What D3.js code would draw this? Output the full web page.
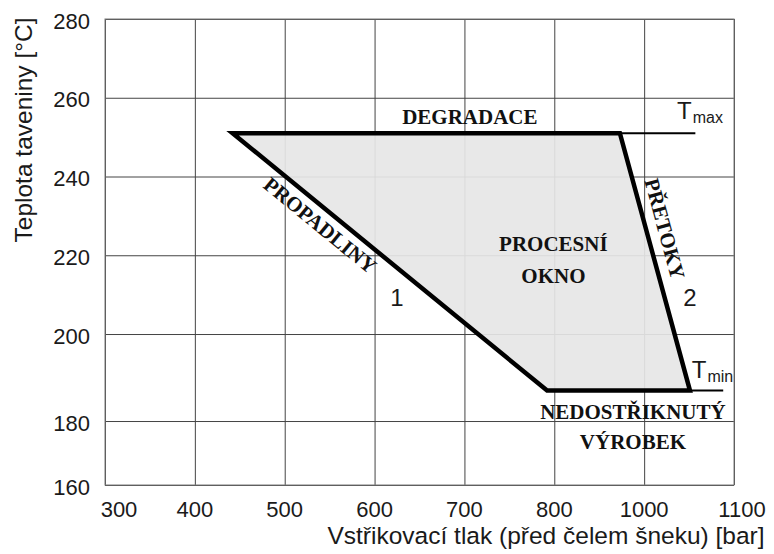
<!DOCTYPE html>
<meta charset="utf-8">
<style>
body { margin: 0; background: #fff; }
.tick text, .axis-title, .num { font-family: "Liberation Sans", Arial, sans-serif; fill: #1a1a1a; }
.zone { font-family: "Liberation Serif", "Times New Roman", serif; font-weight: bold; fill: #111; }
</style>
<body>
<div id="chart"></div>
<script src="https://d3js.org/d3.v7.min.js"></script>
<script>
// axis ticks as printed on the original (900 is missing there)
var xTicks = [300, 400, 500, 600, 700, 800, 1000, 1100];
var yTicks = [160, 180, 200, 220, 240, 260, 280];

// process window corners: injection pressure [bar] / melt temperature [degC]
var pressure = [442, 946, 1051, 792];
var temperature = [251, 251, 187, 187];

// thin limit lines
var tmaxLine = [946, 1057];   // at 251
var tminLine = [1051, 1088];  // at 187

var margin = {top: 19, right: 40, bottom: 69, left: 105},
    width = 774 - margin.left - margin.right,
    height = 554 - margin.top - margin.bottom;

var svg = d3.select("#chart").append("svg")
    .attr("width", 774)
    .attr("height", 554)
  .append("g")
    .attr("transform", "translate(" + margin.left + "," + margin.top + ")");

// the printed axes are evenly spaced per label, not per value
var x = d3.scaleLinear()
    .domain(xTicks)
    .range(xTicks.map(function(d, i) { return i * width / (xTicks.length - 1); }));

// the lowest two rows of the grid are drawn unevenly in the source
var y = d3.scaleLinear()
    .domain([160, 180, 200, 280])
    .range([height, height * 0.8627, height * 0.676, 0]);

// grid
svg.append("g")
    .attr("transform", "translate(0," + height + ")")
    .call(d3.axisBottom(x).tickValues(xTicks).tickSize(-height).tickSizeOuter(0).tickFormat(""))
    .call(function(g) { g.select(".domain").remove(); })
    .selectAll("line").attr("stroke", "#444");

svg.append("g")
    .call(d3.axisLeft(y).tickValues(yTicks).tickSize(-width).tickSizeOuter(0).tickFormat(""))
    .call(function(g) { g.select(".domain").remove(); })
    .selectAll("line").attr("stroke", "#444");

// process window
var corners = pressure.map(function(p, i) { return [x(p), y(temperature[i])]; });

svg.append("polygon")
    .attr("points", corners.map(function(c) { return c.join(","); }).join(" "))
    .attr("fill", "#e6e6e6")
    .attr("fill-opacity", 0.92)
    .attr("stroke", "#000")
    .attr("stroke-width", 4.5)
    .attr("stroke-linejoin", "miter");

// frame
svg.append("rect")
    .attr("width", width)
    .attr("height", height)
    .attr("fill", "none")
    .attr("stroke", "#7a7a7a");

svg.append("line")
    .attr("x1", x(tmaxLine[0])).attr("x2", x(tmaxLine[1]))
    .attr("y1", y(251)).attr("y2", y(251))
    .attr("stroke", "#000").attr("stroke-width", 2);

svg.append("line")
    .attr("x1", x(tminLine[0])).attr("x2", x(tminLine[1]))
    .attr("y1", y(187)).attr("y2", y(187))
    .attr("stroke", "#000").attr("stroke-width", 2);

// tick labels
svg.selectAll(".xlab")
    .data(xTicks)
  .enter().append("text")
    .attr("class", "num")
    .attr("x", function(d, i) { return x(d) + (i == 0 ? 14 : i == xTicks.length - 1 ? 8 : 0); })
    .attr("y", height + 32)
    .attr("text-anchor", "middle")
    .style("font-size", "22px")
    .text(function(d) { return d; });

svg.selectAll(".ylab")
    .data(yTicks)
  .enter().append("text")
    .attr("class", "num")
    .attr("x", -15)
    .attr("y", function(d) { return y(d) + 2; })
    .attr("dy", "0.35em")
    .attr("text-anchor", "end")
    .style("font-size", "22px")
    .text(function(d) { return d; });

// axis titles
svg.append("text")
    .attr("class", "axis-title")
    .attr("x", 546 - margin.left)
    .attr("y", height + 59)
    .attr("text-anchor", "middle")
    .style("font-size", "24.5px")
    .text("Vstřikovací tlak (před čelem šneku) [bar]");

svg.append("text")
    .attr("class", "axis-title")
    .attr("transform", "translate(" + (32 - margin.left) + "," + (130 - margin.top) + ") rotate(-90)")
    .attr("text-anchor", "middle")
    .style("font-size", "24.5px")
    .text("Teplota taveniny [°C]");

// zone labels
function zone(px, t, txt) {
  svg.append("text")
      .attr("class", "zone")
      .attr("x", x(px))
      .attr("y", y(t))
      .attr("text-anchor", "middle")
      .style("font-size", "21px")
      .text(txt);
}
zone(706, 253.3, "DEGRADACE");
zone(799, 221.1, "PROCESNÍ");
zone(799, 213.0, "OKNO");
zone(975, 180.5, "NEDOSTŘIKNUTÝ");
zone(975, 171.3, "VÝROBEK");

// labels that run along an edge of the window
function edgeLabel(a, b, t, off, txt) {
  var dx = corners[b][0] - corners[a][0],
      dy = corners[b][1] - corners[a][1],
      len = Math.sqrt(dx * dx + dy * dy),
      nx = -dy / len, ny = dx / len;
  var cx = corners[a][0] + t * dx + off * nx,
      cy = corners[a][1] + t * dy + off * ny;
  svg.append("text")
      .attr("class", "zone")
      .attr("transform", "translate(" + cx + "," + cy + ") rotate(" + (Math.atan2(dy, dx) * 180 / Math.PI) + ")")
      .attr("text-anchor", "middle")
      .attr("dy", "0.33em")
      .style("font-size", "21px")
      .text(txt);
}
edgeLabel(0, 3, 0.31, 16, "PROPADLINY");
edgeLabel(1, 2, 0.39, -18, "PŘETOKY");

// curve numbers
svg.append("text").attr("class", "num")
    .attr("x", x(625)).attr("y", y(207.1))
    .attr("text-anchor", "middle").style("font-size", "24px").text("1");
svg.append("text").attr("class", "num")
    .attr("x", x(1051)).attr("y", y(207.1))
    .attr("text-anchor", "middle").style("font-size", "24px").text("2");

// T max / T min
function tLabel(px, t, sub) {
  var tx = svg.append("text").attr("class", "num")
      .attr("x", x(px)).attr("y", y(t))
      .style("font-size", "24px");
  tx.append("tspan").text("T");
  tx.append("tspan").attr("dx", 1).attr("dy", 4).style("font-size", "16px").text(sub);
}
tLabel(1036.6, 254.6, "max");
tLabel(1053, 189.9, "min");
</script>
</body>
